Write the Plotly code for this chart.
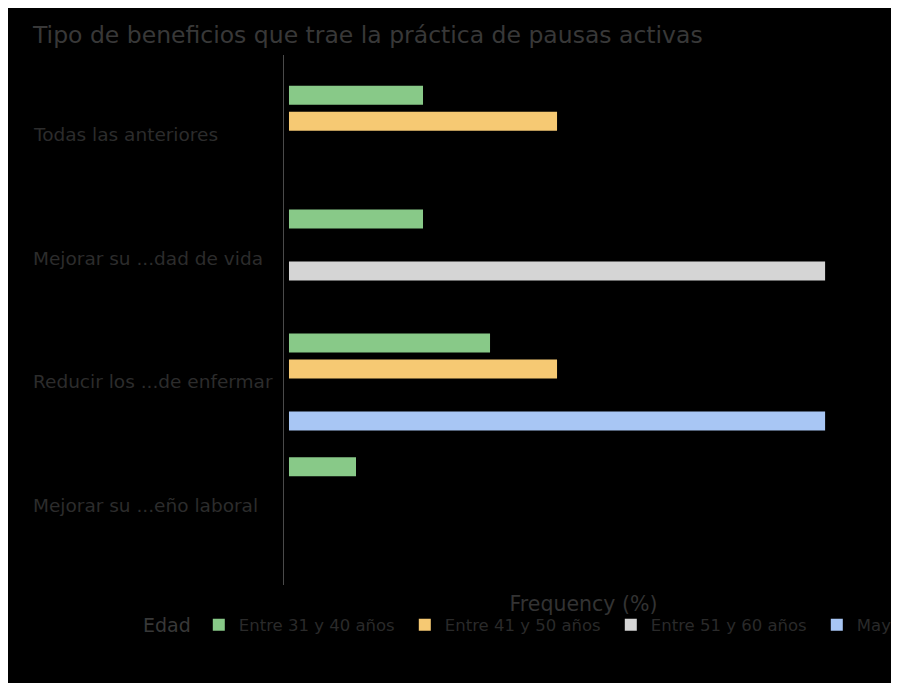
import plotly.graph_objects as go

categories = ["Todas las anteriores", "Mejorar su ...dad de vida",
              "Reducir los ...de enfermar", "Mejorar su ...eño laboral"]
series_names = ["Entre 31 y 40 años", "Entre 41 y 50 años",
                "Entre 51 y 60 años", "Mayor de 60 años"]
entre_31_40 = [25, 25, 37.5, 12.5]
entre_41_50 = [50, None, 50, None]
entre_51_60 = [None, 100, None, None]
mayor_60 = [None, None, 100, None]
colors = ["#88c988", "#f6c973", "#d5d5d5", "#a8c6f4"]

all_values = [entre_31_40, entre_41_50, entre_51_60, mayor_60]

FONT = "DejaVu Sans, Arial, sans-serif"

fig = go.Figure()
for name, vals, col in zip(series_names, all_values, colors):
    fig.add_trace(go.Bar(
        y=categories, x=vals, name=name, orientation="h",
        marker=dict(color=col, line=dict(width=0)),
    ))

for cat in categories:
    fig.add_annotation(
        x=-0.4223, xref="paper", y=cat, yref="y", text=cat,
        xanchor="left", yanchor="middle", showarrow=False,
        font=dict(size=18.5, color="#2c2c2c", family=FONT),
    )

fig.update_layout(
    width=899, height=683,
    paper_bgcolor="#000000", plot_bgcolor="#000000",
    font=dict(family=FONT, color="#333333"),
    title=dict(text="Tipo de beneficios que trae la práctica de pausas activas",
               x=0.0278, xanchor="left", y=0.9605, yanchor="middle",
               font=dict(size=23.5, color="#383838")),
    margin=dict(l=276, r=24, t=47, b=106, autoexpand=False),
    barmode="group", bargap=0.16, bargroupgap=0.27,
    showlegend=True,
    legend=dict(orientation="h", x=-0.2387, xanchor="left", y=-0.0755, yanchor="middle",
                title=dict(text="Edad", font=dict(size=19, color="#383838"), side="left"),
                font=dict(size=16.5, color="#2a2a2a"),
                entrywidth=161, bgcolor="rgba(0,0,0,0)"),
    xaxis=dict(range=[-0.93, 110.8], showgrid=False, zeroline=False,
               showticklabels=False, showline=False, ticks="",
               title=dict(text="Frequency (%)", font=dict(size=20.5, color="#333333"),
                          standoff=11)),
    yaxis=dict(categoryorder="array", categoryarray=categories,
               range=[3.64, -0.64], showgrid=False, zeroline=False,
               showticklabels=False, showline=True, linecolor="#4a4a4a", linewidth=1,
               ticks=""),
)

fig.write_html("out.html")
